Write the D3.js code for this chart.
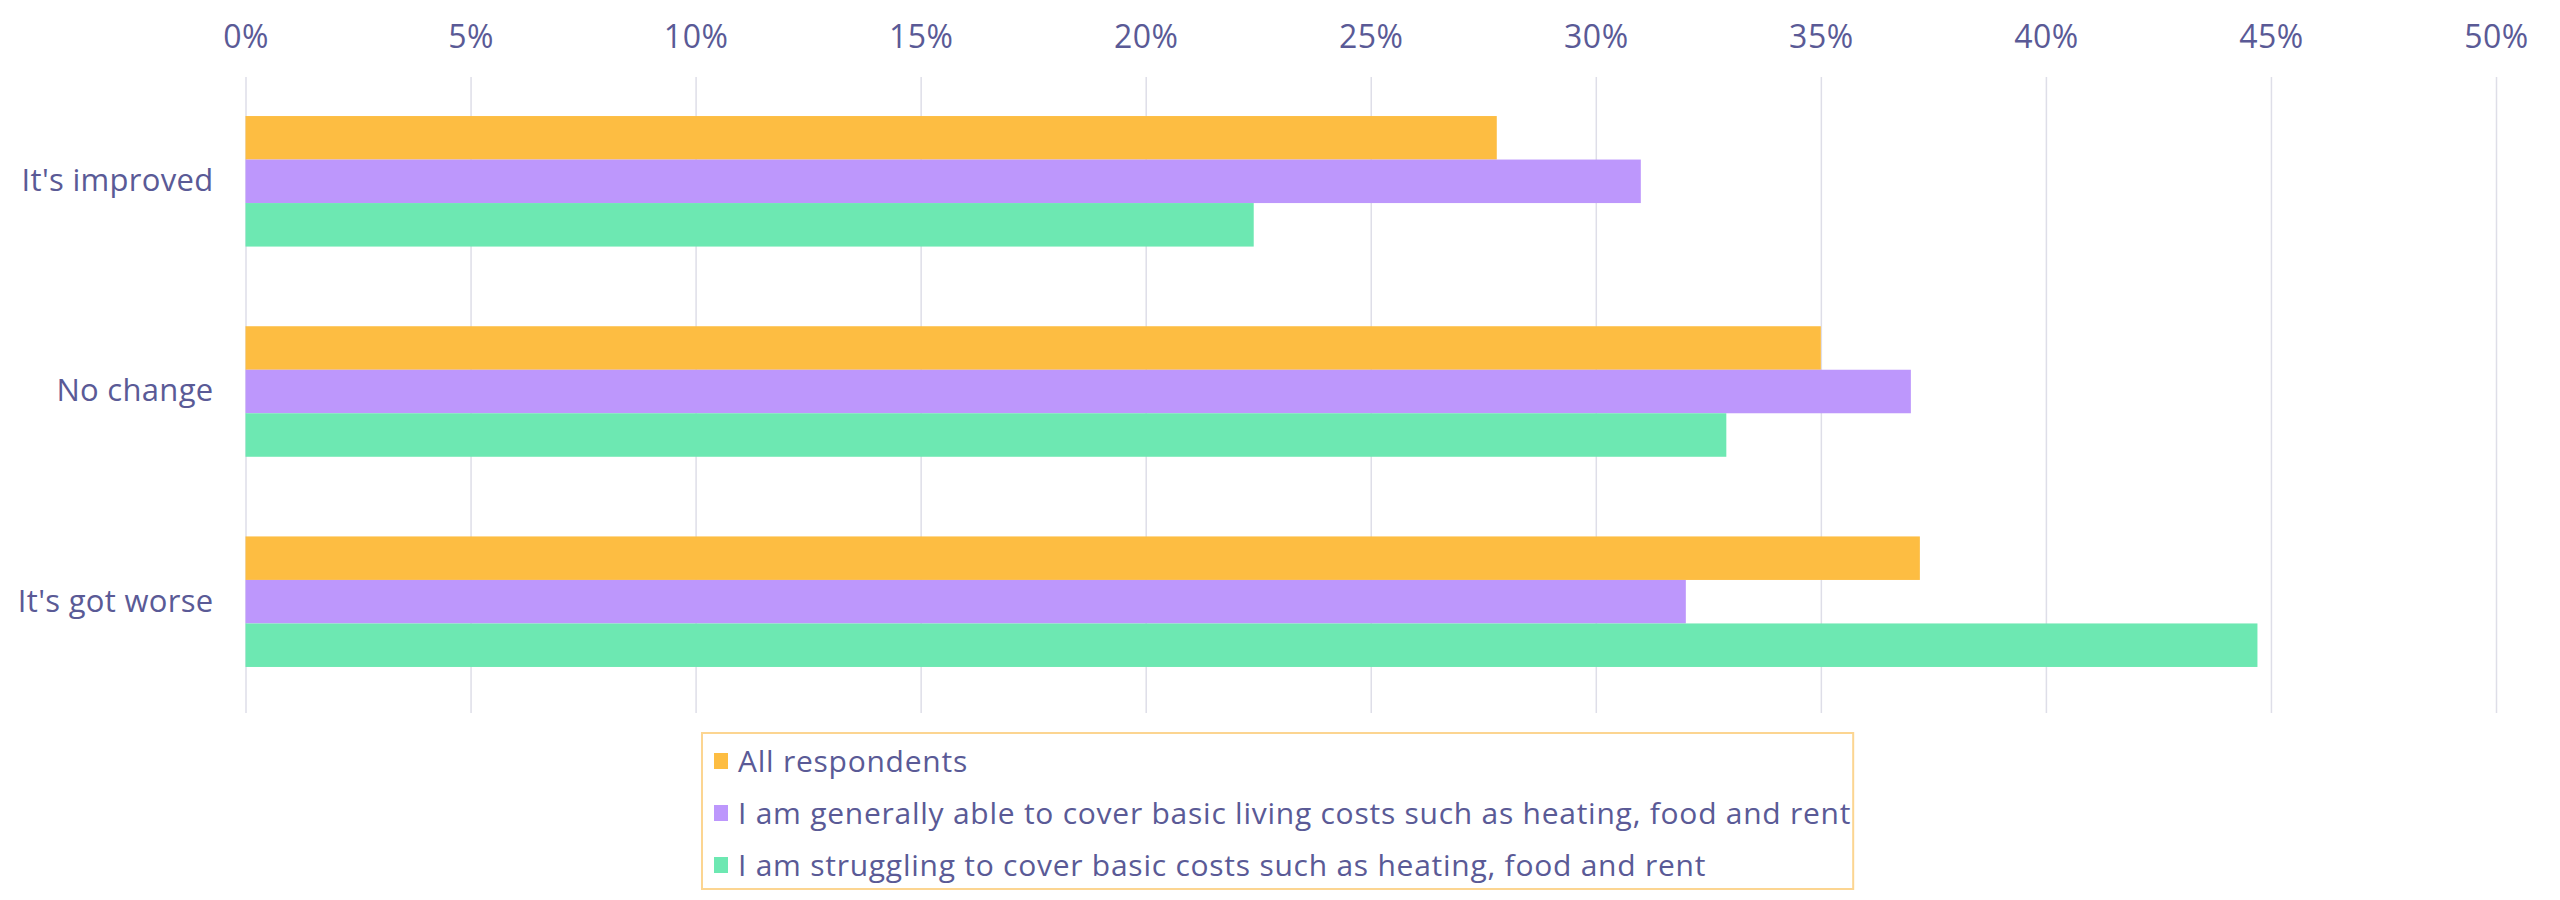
<!DOCTYPE html>
<html>
<head>
<meta charset="utf-8">
<script src="https://cdn.jsdelivr.net/npm/d3@7"></script>
<style>
  html, body { margin: 0; padding: 0; background: #ffffff; }
  svg { display: block; }
  text { font-family: "Open Sans", "Noto Sans", sans-serif; fill: #5a5a96; }
</style>
</head>
<body>
<svg id="chart" width="2560" height="900"></svg>
<script>
const categories = ["It's improved", "No change", "It's got worse"];
const seriesNames = [
  "All respondents",
  "I am generally able to cover basic living costs such as heating, food and rent",
  "I am struggling to cover basic costs such as heating, food and rent"
];
const allRespondents = [27.8, 35.0, 37.2];
const ableToCover = [31.0, 37.0, 32.0];
const struggling = [22.4, 32.9, 44.7];
const tickValues = [0, 5, 10, 15, 20, 25, 30, 35, 40, 45, 50];
const colors = ["#fdbd42", "#bd97fc", "#6de8b2"];

const seriesValues = [allRespondents, ableToCover, struggling];

const svg = d3.select("#chart");

const x = d3.scaleLinear().domain([0, 50]).range([245.5, 2496]);
const y = d3.scaleBand().domain(categories).range([74, 709]).paddingInner(0.379).paddingOuter(0.2);
const ySub = d3.scaleBand().domain(d3.range(seriesNames.length)).range([0, y.bandwidth()]).padding(0);

const gridTop = 77, gridBottom = 713;

// top axis with gridlines
const xAxis = svg.append("g")
  .attr("transform", `translate(0,${gridTop})`)
  .call(d3.axisTop(x).tickValues(tickValues).tickFormat(d => d + "%")
    .tickSizeInner(-(gridBottom - gridTop)).tickSizeOuter(0).tickPadding(29));
xAxis.select(".domain").remove();
xAxis.selectAll(".tick line").attr("stroke", "#dedee8").attr("stroke-width", 1.5);
xAxis.selectAll(".tick text").style("font-size", "32px").style("letter-spacing", "0.5px").attr("fill", "#5a5a96");

// bars
const groups = svg.append("g").selectAll("g")
  .data(categories)
  .join("g")
  .attr("transform", d => `translate(0,${y(d)})`);

groups.selectAll("rect")
  .data((d, i) => seriesValues.map((vals, s) => ({ s, v: vals[i] })))
  .join("rect")
  .attr("x", x(0))
  .attr("y", d => ySub(d.s))
  .attr("width", d => x(d.v) - x(0))
  .attr("height", ySub.bandwidth())
  .attr("fill", d => colors[d.s]);

// left axis labels
const yAxis = svg.append("g")
  .attr("transform", `translate(${x(0)},0)`)
  .call(d3.axisLeft(y).tickSize(0).tickPadding(32));
yAxis.select(".domain").remove();
yAxis.selectAll(".tick text").style("font-size", "31px").style("letter-spacing", "0.3px").attr("fill", "#5a5a96");

// legend
const legendX = 702, legendY = 733, lineGap = 52;
const legend = svg.append("g");
const border = legend.append("rect")
  .attr("x", legendX).attr("y", legendY)
  .attr("fill", "none").attr("stroke", "#fcd591").attr("stroke-width", 2);

const items = legend.selectAll("g.item")
  .data(seriesNames)
  .join("g")
  .attr("class", "item")
  .attr("transform", (d, i) => `translate(${legendX + 12},${legendY + 28 + i * lineGap})`);

items.append("rect")
  .attr("x", 0).attr("y", -8).attr("width", 14).attr("height", 16)
  .attr("fill", (d, i) => colors[i]);

items.append("text")
  .attr("x", 24).attr("y", 0).attr("dy", "0.35em")
  .style("font-size", "30px")
  .style("letter-spacing", "0.75px")
  .text(d => d);

let maxW = 0;
items.selectAll("text").each(function() { maxW = Math.max(maxW, this.getComputedTextLength()); });
border.attr("width", 12 + 24 + maxW + 2).attr("height", 28 + lineGap * 2 + 24);
</script>
</body>
</html>
